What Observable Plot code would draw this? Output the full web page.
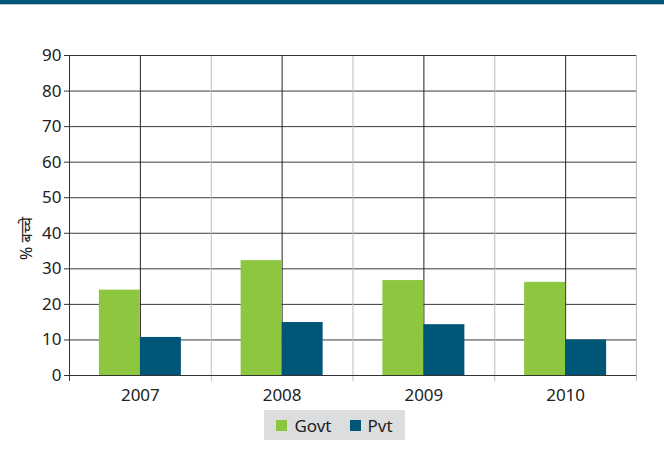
<!DOCTYPE html>
<html>
<head>
<meta charset="utf-8">
<script src="https://cdn.jsdelivr.net/npm/d3@7"></script>
<script src="https://cdn.jsdelivr.net/npm/@observablehq/plot@0.6"></script>
<style>
  html, body { margin: 0; padding: 0; background: #fff; }
  body { width: 664px; height: 462px; overflow: hidden; font-family: "Noto Sans", "Open Sans", sans-serif; }
  .stripe { height: 4px; background: #00587a; border-bottom: 1px solid #b9c3c8; }
  #chart svg { display: block; }
  .legend { margin: 3px 0 0 264px; width: 141px; height: 30px; background: #dcdddf; display: flex; align-items: center; justify-content: center; gap: 18px; font-size: 17px; color: #222; }
  .legend span.item { display: flex; align-items: center; }
  .legend i { display: inline-block; width: 11px; height: 11px; margin-right: 7px; }
</style>
</head>
<body>
<div class="stripe"></div>
<div id="chart"></div>
<div class="legend" id="legend"></div>
<script>
const years = ["2007", "2008", "2009", "2010"];
const govt = [24.0, 32.3, 26.7, 26.2];
const pvt = [10.7, 14.9, 14.3, 10.0];
const yTicks = [0, 10, 20, 30, 40, 50, 60, 70, 80, 90];
const seriesNames = ["Govt", "Pvt"];
const seriesColors = ["#8dc63f", "#005677"];
const yLabel = "% बच्चे";

const W = 664, H = 402, mL = 69, mR = 28, mT = 50, mB = 32;
const step = (W - mL - mR) / years.length;
const barW = 41;
const half = step / 2;

const govtData = years.map((y, i) => ({year: y, value: govt[i]}));
const pvtData = years.map((y, i) => ({year: y, value: pvt[i]}));

const chart = Plot.plot({
  width: W, height: H,
  marginLeft: mL, marginRight: mR, marginTop: mT, marginBottom: mB,
  style: {fontFamily: "'Noto Sans', 'Open Sans', sans-serif", color: "#222", background: "#fff"},
  x: {type: "band", domain: years, padding: 0, round: false},
  y: {domain: [0, 90]},
  marks: [
    Plot.gridY(yTicks, {stroke: "#3a3a3a", strokeOpacity: 1}),
    Plot.ruleX(years.slice(1), {dx: -half, stroke: "#bdbdbd", insetBottom: -6}),
    Plot.ruleX(years.slice(-1), {dx: half, stroke: "#bdbdbd", insetBottom: -6}),
    Plot.ruleX(years, {stroke: "#222"}),
    Plot.barY(govtData, {x: "year", y: "value", fill: seriesColors[0], insetLeft: half - barW, insetRight: half}),
    Plot.barY(pvtData, {x: "year", y: "value", fill: seriesColors[1], insetLeft: half, insetRight: half - barW}),
    Plot.ruleY([0], {stroke: "#333"}),
    Plot.ruleY([90], {stroke: "#333"}),
    Plot.ruleX(years.slice(0, 1), {dx: -half, stroke: "#333", insetBottom: -6}),
    Plot.axisY({ticks: yTicks, tickSize: 5, tickPadding: 3, fontSize: 17, label: null, stroke: "#333"}),
    Plot.text([yLabel], {frameAnchor: "left", rotate: -90, dx: -43, dy: 23, fontSize: 16, fill: "#222", textAnchor: "middle"}),
    Plot.axisX({tickSize: 0, tickPadding: 13, fontSize: 17, label: null})
  ]
});
document.getElementById("chart").appendChild(chart);

const legend = document.getElementById("legend");
seriesNames.forEach((n, i) => {
  const s = document.createElement("span");
  s.className = "item";
  s.innerHTML = `<i style="background:${seriesColors[i]}"></i>${n}`;
  legend.appendChild(s);
});
</script>
</body>
</html>
